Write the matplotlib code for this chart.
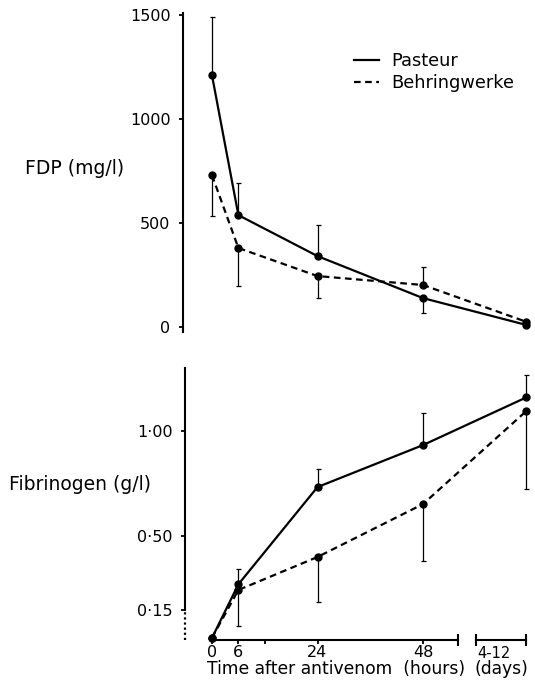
import numpy as np
import matplotlib
matplotlib.use("Agg")
import matplotlib.pyplot as plt
from matplotlib.lines import Line2D

# time axis: hours, the last point stands for "4-12 days"
czas = [0, 6, 24, 48, 71.5]

# FDP (mg/l)
fdp_pasteur = [1210, 538, 341, 139, 10]
fdp_pasteur_gora = [282, 154, 149, 0, 0]
fdp_pasteur_dol = [0, 0, 0, 72, 0]
fdp_behring = [730, 380, 245, 202, 25]
fdp_behring_gora = [0, 0, 0, 86, 0]
fdp_behring_dol = [196, 183, 105, 0, 0]

# fibrynogen (g/l)
fib_pasteur = [0.015, 0.27, 0.733, 0.933, 1.16]
fib_pasteur_gora = [0, 0.073, 0.086, 0.153, 0.107]
fib_behring = [0.015, 0.243, 0.40, 0.652, 1.095]
fib_behring_dol = [0, 0.172, 0.214, 0.271, 0.371]

fdp_ticks = [0, 500, 1000, 1500]
fib_ticks = [0.15, 0.50, 1.00]
fib_tick_labels = ["0·15", "0·50", "1·00"]
godz_ticks = [0, 6, 12, 24, 48]
godz_labels = ["0", "6", "", "24", "48"]

W, H = 535, 683
fig = plt.figure(figsize=(W / 100, H / 100), dpi=100)

def pozycja(l, r, b, t):
    return [l / W, 1 - b / H, (r - l) / W, (b - t) / H]

px_h = (423 - 212) / 48
ax1 = fig.add_axes(pozycja(183, 530, 332, 13))
ax2 = fig.add_axes(pozycja(185, 530, 640, 368))
ax1.set_xlim((183 - 212) / px_h, (530 - 212) / px_h)
ax2.set_xlim((185 - 212) / px_h, (530 - 212) / px_h)
ax1.set_ylim(-24, 1510)
ax2.set_ylim(0.0048, 1.30)

styl = dict(color="black", lw=1.6, marker="o", ms=5, clip_on=False)
styl_err = dict(fmt="none", ecolor="black", elinewidth=0.9, capsize=1.8, capthick=0.9, clip_on=False)
przerywana = (0, (3, 2))

# gorny panel
ax1.errorbar(czas, fdp_pasteur, yerr=[fdp_pasteur_dol, fdp_pasteur_gora], **styl_err)
ax1.errorbar(czas, fdp_behring, yerr=[fdp_behring_dol, fdp_behring_gora], **styl_err)
ax1.plot(czas, fdp_pasteur, ls="-", **styl)
ax1.plot(czas, fdp_behring, ls=przerywana, **styl)

for s in ["top", "right", "bottom"]:
    ax1.spines[s].set_visible(False)
ax1.spines["left"].set_linewidth(1.5)
ax1.set_xticks([])
ax1.set_yticks(fdp_ticks)
ax1.tick_params(axis="y", direction="out", length=3, width=1.3, pad=6, labelsize=11.5)

fig.text(25 / W, 1 - 168 / H, "FDP (mg/l)", fontsize=13.5, va="center", ha="left")

uchwyty = [Line2D([], [], color="black", lw=1.6, ls="-"),
           Line2D([], [], color="black", lw=1.6, ls=przerywana)]
fig.legend(uchwyty, ["Pasteur", "Behringwerke"], loc="upper left",
           bbox_to_anchor=(354 / W, 1 - 52 / H), frameon=False, fontsize=12.8,
           handlelength=1.4, handletextpad=0.7, labelspacing=0.25, borderpad=0, borderaxespad=0)

# dolny panel
ax2.errorbar(czas, fib_pasteur, yerr=[np.zeros(5), fib_pasteur_gora], **styl_err)
ax2.errorbar(czas, fib_behring, yerr=[fib_behring_dol, np.zeros(5)], **styl_err)
ax2.plot(czas, fib_pasteur, ls="-", **styl)
ax2.plot(czas, fib_behring, ls=przerywana, **styl)

for s in ["top", "right"]:
    ax2.spines[s].set_visible(False)
ax2.spines["left"].set_linewidth(1.5)
ax2.spines["left"].set_bounds(0.15, 1.30)
ax2.spines["bottom"].set_linewidth(1.5)
ax2.spines["bottom"].set_bounds(0, 56)
ax2.set_yticks(fib_ticks)
ax2.set_yticklabels(fib_tick_labels)
ax2.set_xticks(godz_ticks)
ax2.set_xticklabels(godz_labels)
ax2.tick_params(axis="y", direction="out", length=3, width=1.3, pad=6, labelsize=11.5)
ax2.tick_params(axis="x", direction="out", length=3, width=1.3, pad=0.5, labelsize=11.5)

# przerwa osi y (kropki) i odcinek "dni"
tr = ax2.get_yaxis_transform()
ax2.plot([0, 0], [0.005, 0.15], transform=tr, color="black", lw=1.6, ls=(0, (1, 1.3)), clip_on=False)
y0 = ax2.get_ylim()[0]
ax2.plot([56], [y0], marker="|", ms=8, mew=1.5, color="black", clip_on=False)
ax2.plot([60, 71.5], [y0, y0], color="black", lw=1.5, marker="|", ms=8, mew=1.5, clip_on=False)

fig.text(477 / W, 1 - 654 / H, "4-12", fontsize=10.5, ha="left", va="center")
fig.text(207 / W, 1 - 669 / H, "Time after antivenom  (hours)", fontsize=12.3, ha="left", va="center")
fig.text(475 / W, 1 - 669 / H, "(days)", fontsize=12.3, ha="left", va="center")
fig.text(9 / W, 1 - 485 / H, "Fibrinogen (g/l)", fontsize=13.5, va="center", ha="left")

plt.savefig("out.png", dpi=100)
